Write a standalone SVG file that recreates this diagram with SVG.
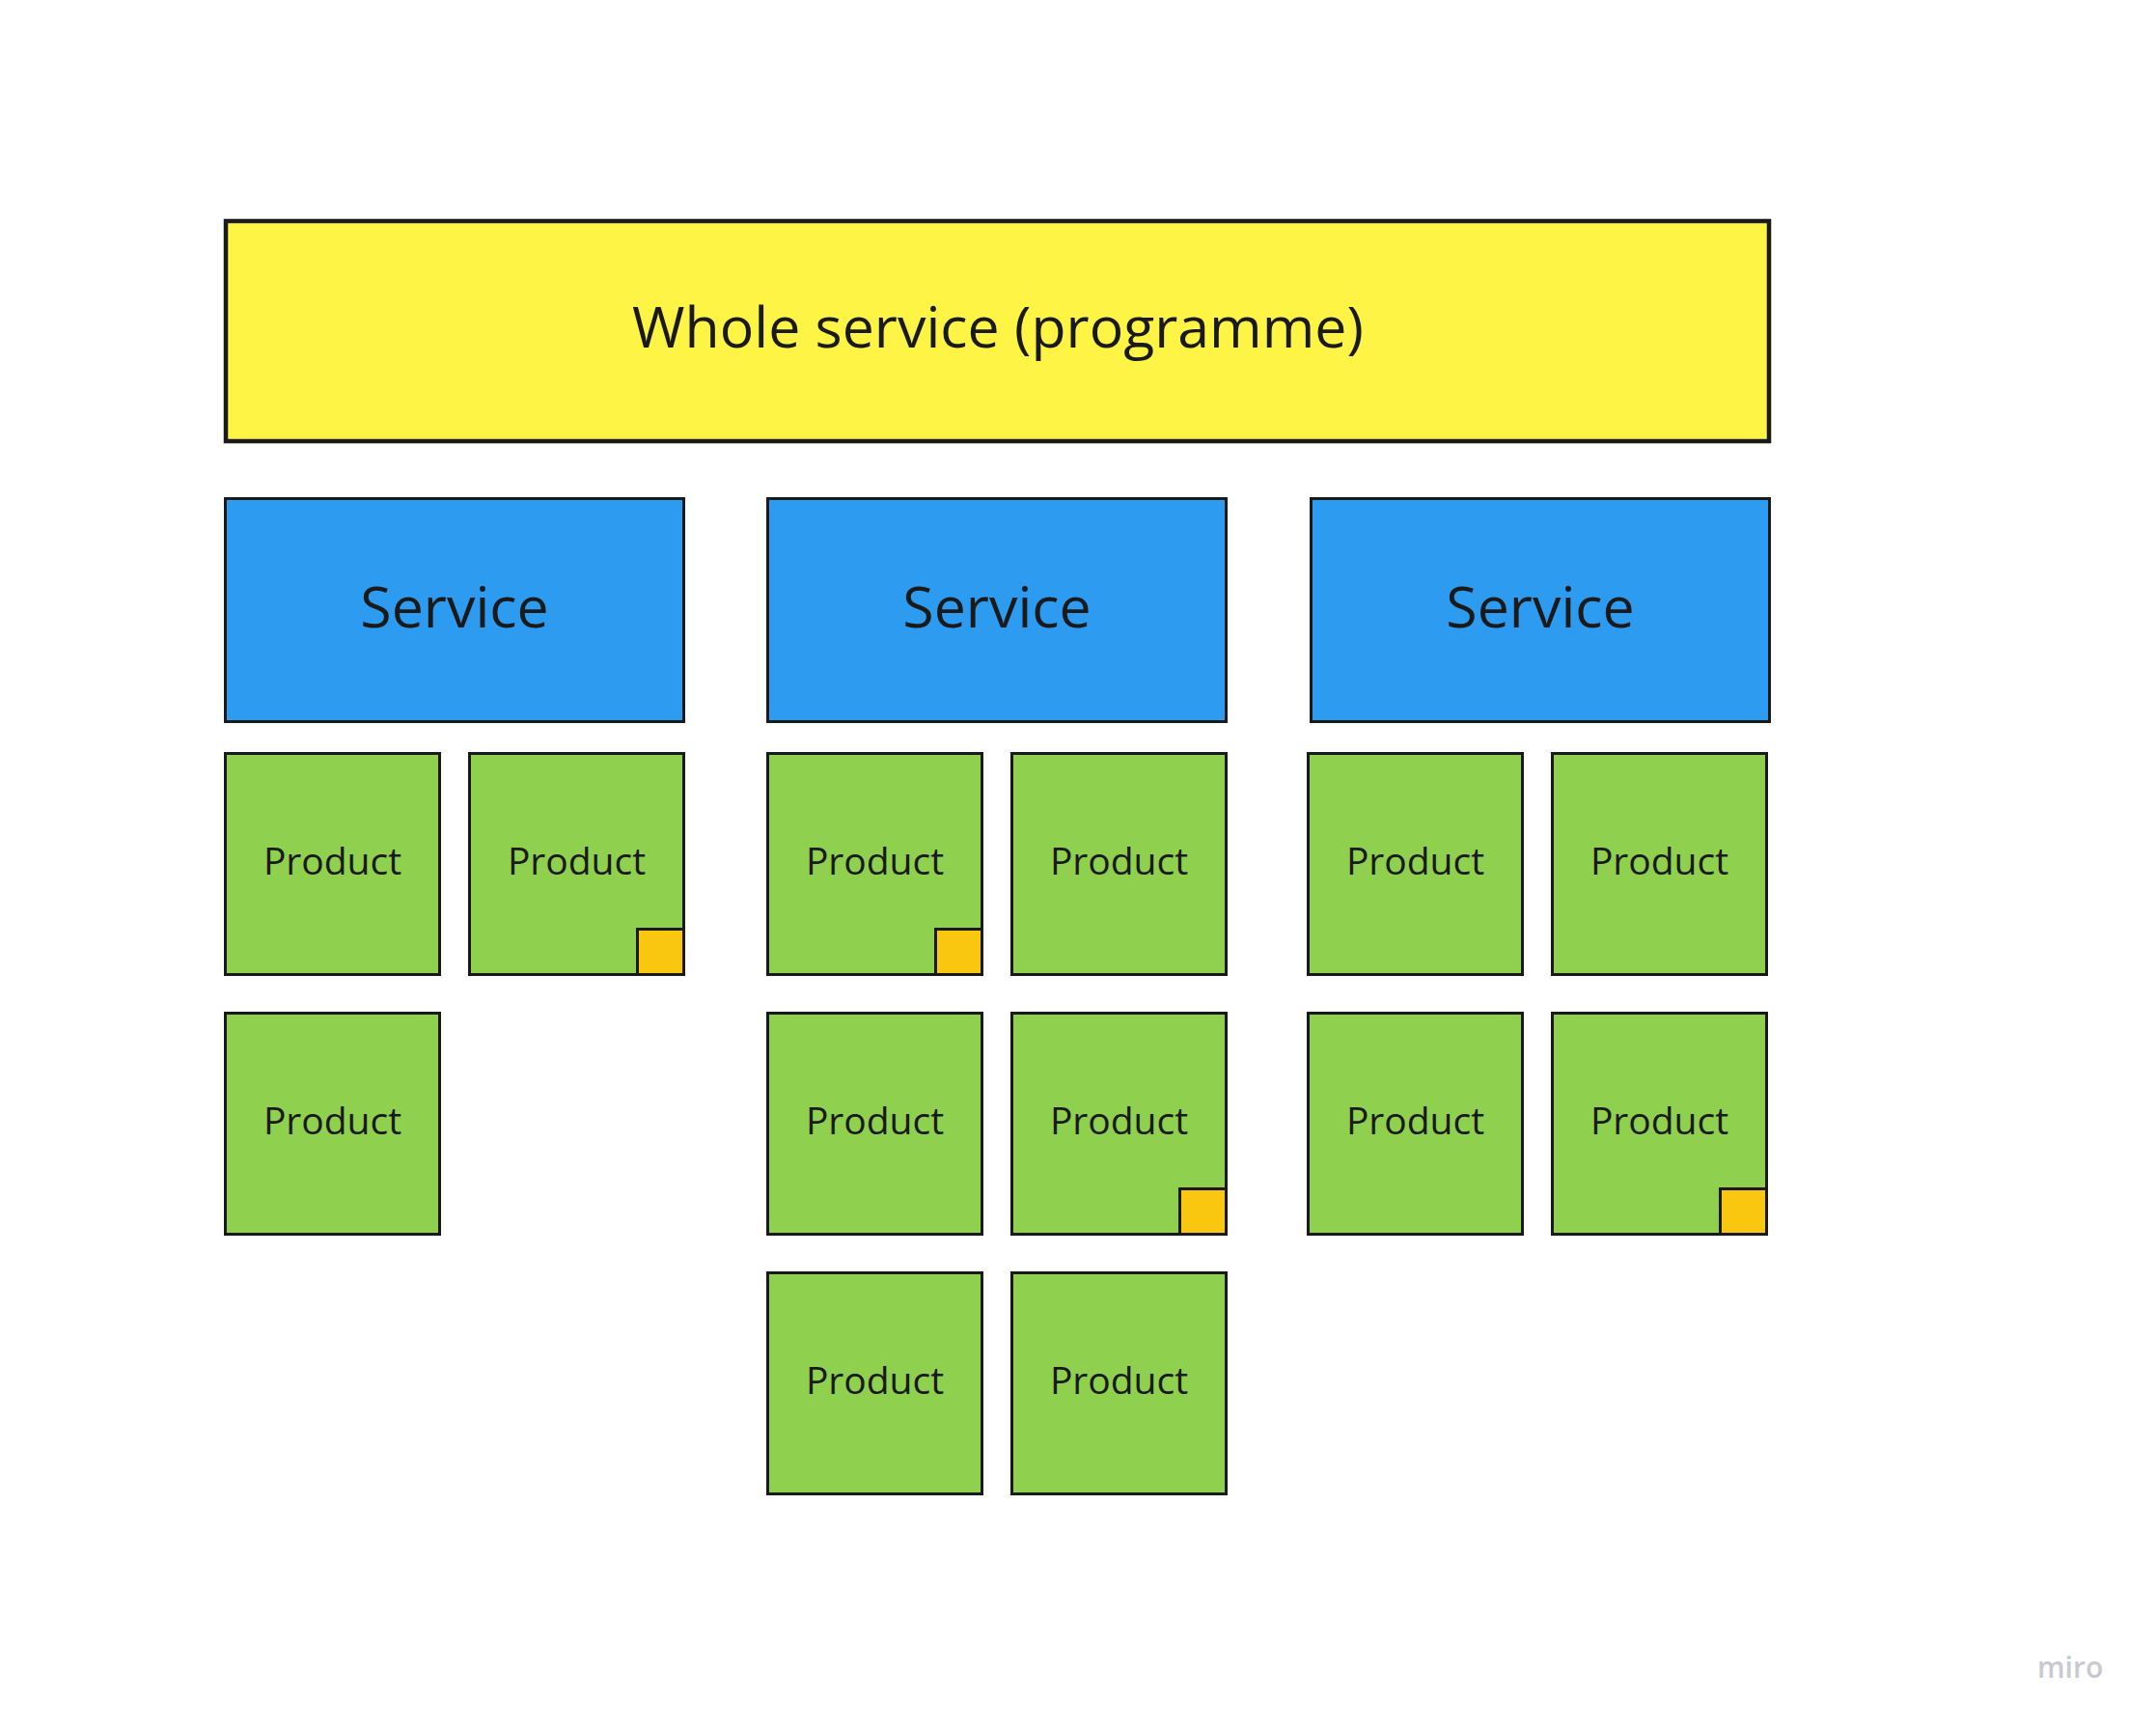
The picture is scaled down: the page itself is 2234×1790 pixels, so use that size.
<svg xmlns="http://www.w3.org/2000/svg" width="2234" height="1790" viewBox="0 0 2234 1790">
<style>
.bx{stroke:#1a1a1a;stroke-width:3}
.wh{fill:#fef445;stroke:#1a1a1a;stroke-width:4.5}
.sv{fill:#2d9bf0}
.pr{fill:#8fd14f}
.tag{fill:#fac710;stroke:#1a1a1a;stroke-width:3}
text{font-family:"Open Sans","Noto Sans","Liberation Sans",sans-serif;fill:#1a1a1a;text-anchor:middle}
.t1{font-size:59px}
.t2{font-size:59px}
.t3{font-size:39px}
.logo{font-family:"Open Sans","Noto Sans",sans-serif;font-size:30px;font-weight:600;fill:#c9c9d3;text-anchor:start}
</style>
<rect width="2234" height="1790" fill="#ffffff"/>
<g id="whole">
<rect class="wh" x="234" y="229" width="1599" height="228"/>
<text class="t1" x="1034" y="360">Whole service (programme)</text>
</g>
<g id="service1">
<rect class="bx sv" x="233.5" y="516.5" width="475" height="231"/>
<text class="t2" x="471" y="650">Service</text>
</g>
<g id="service2">
<rect class="bx sv" x="795.5" y="516.5" width="475" height="231"/>
<text class="t2" x="1033" y="650">Service</text>
</g>
<g id="service3">
<rect class="bx sv" x="1358.5" y="516.5" width="475" height="231"/>
<text class="t2" x="1596" y="650">Service</text>
</g>
<g id="p1a"><rect class="bx pr" x="233.5" y="780.5" width="222" height="229"/><text class="t3" x="344.5" y="906">Product</text></g>
<g id="p1b"><rect class="bx pr" x="486.5" y="780.5" width="222" height="229"/><text class="t3" x="597.5" y="906">Product</text><rect class="tag" x="660.5" y="962.5" width="48" height="47"/></g>
<g id="p1c"><rect class="bx pr" x="233.5" y="1049.5" width="222" height="229"/><text class="t3" x="344.5" y="1175">Product</text></g>
<g id="p2a"><rect class="bx pr" x="795.5" y="780.5" width="222" height="229"/><text class="t3" x="906.5" y="906">Product</text><rect class="tag" x="969.5" y="962.5" width="48" height="47"/></g>
<g id="p2b"><rect class="bx pr" x="1048.5" y="780.5" width="222" height="229"/><text class="t3" x="1159.5" y="906">Product</text></g>
<g id="p2c"><rect class="bx pr" x="795.5" y="1049.5" width="222" height="229"/><text class="t3" x="906.5" y="1175">Product</text></g>
<g id="p2d"><rect class="bx pr" x="1048.5" y="1049.5" width="222" height="229"/><text class="t3" x="1159.5" y="1175">Product</text><rect class="tag" x="1222.5" y="1231.5" width="48" height="47"/></g>
<g id="p2e"><rect class="bx pr" x="795.5" y="1318.5" width="222" height="229"/><text class="t3" x="906.5" y="1444">Product</text></g>
<g id="p2f"><rect class="bx pr" x="1048.5" y="1318.5" width="222" height="229"/><text class="t3" x="1159.5" y="1444">Product</text></g>
<g id="p3a"><rect class="bx pr" x="1355.5" y="780.5" width="222" height="229"/><text class="t3" x="1466.5" y="906">Product</text></g>
<g id="p3b"><rect class="bx pr" x="1608.5" y="780.5" width="222" height="229"/><text class="t3" x="1719.5" y="906">Product</text></g>
<g id="p3c"><rect class="bx pr" x="1355.5" y="1049.5" width="222" height="229"/><text class="t3" x="1466.5" y="1175">Product</text></g>
<g id="p3d"><rect class="bx pr" x="1608.5" y="1049.5" width="222" height="229"/><text class="t3" x="1719.5" y="1175">Product</text><rect class="tag" x="1782.5" y="1231.5" width="48" height="47"/></g>
<g id="connectors"></g>
<text class="logo" x="2111" y="1738">miro</text>
</svg>
